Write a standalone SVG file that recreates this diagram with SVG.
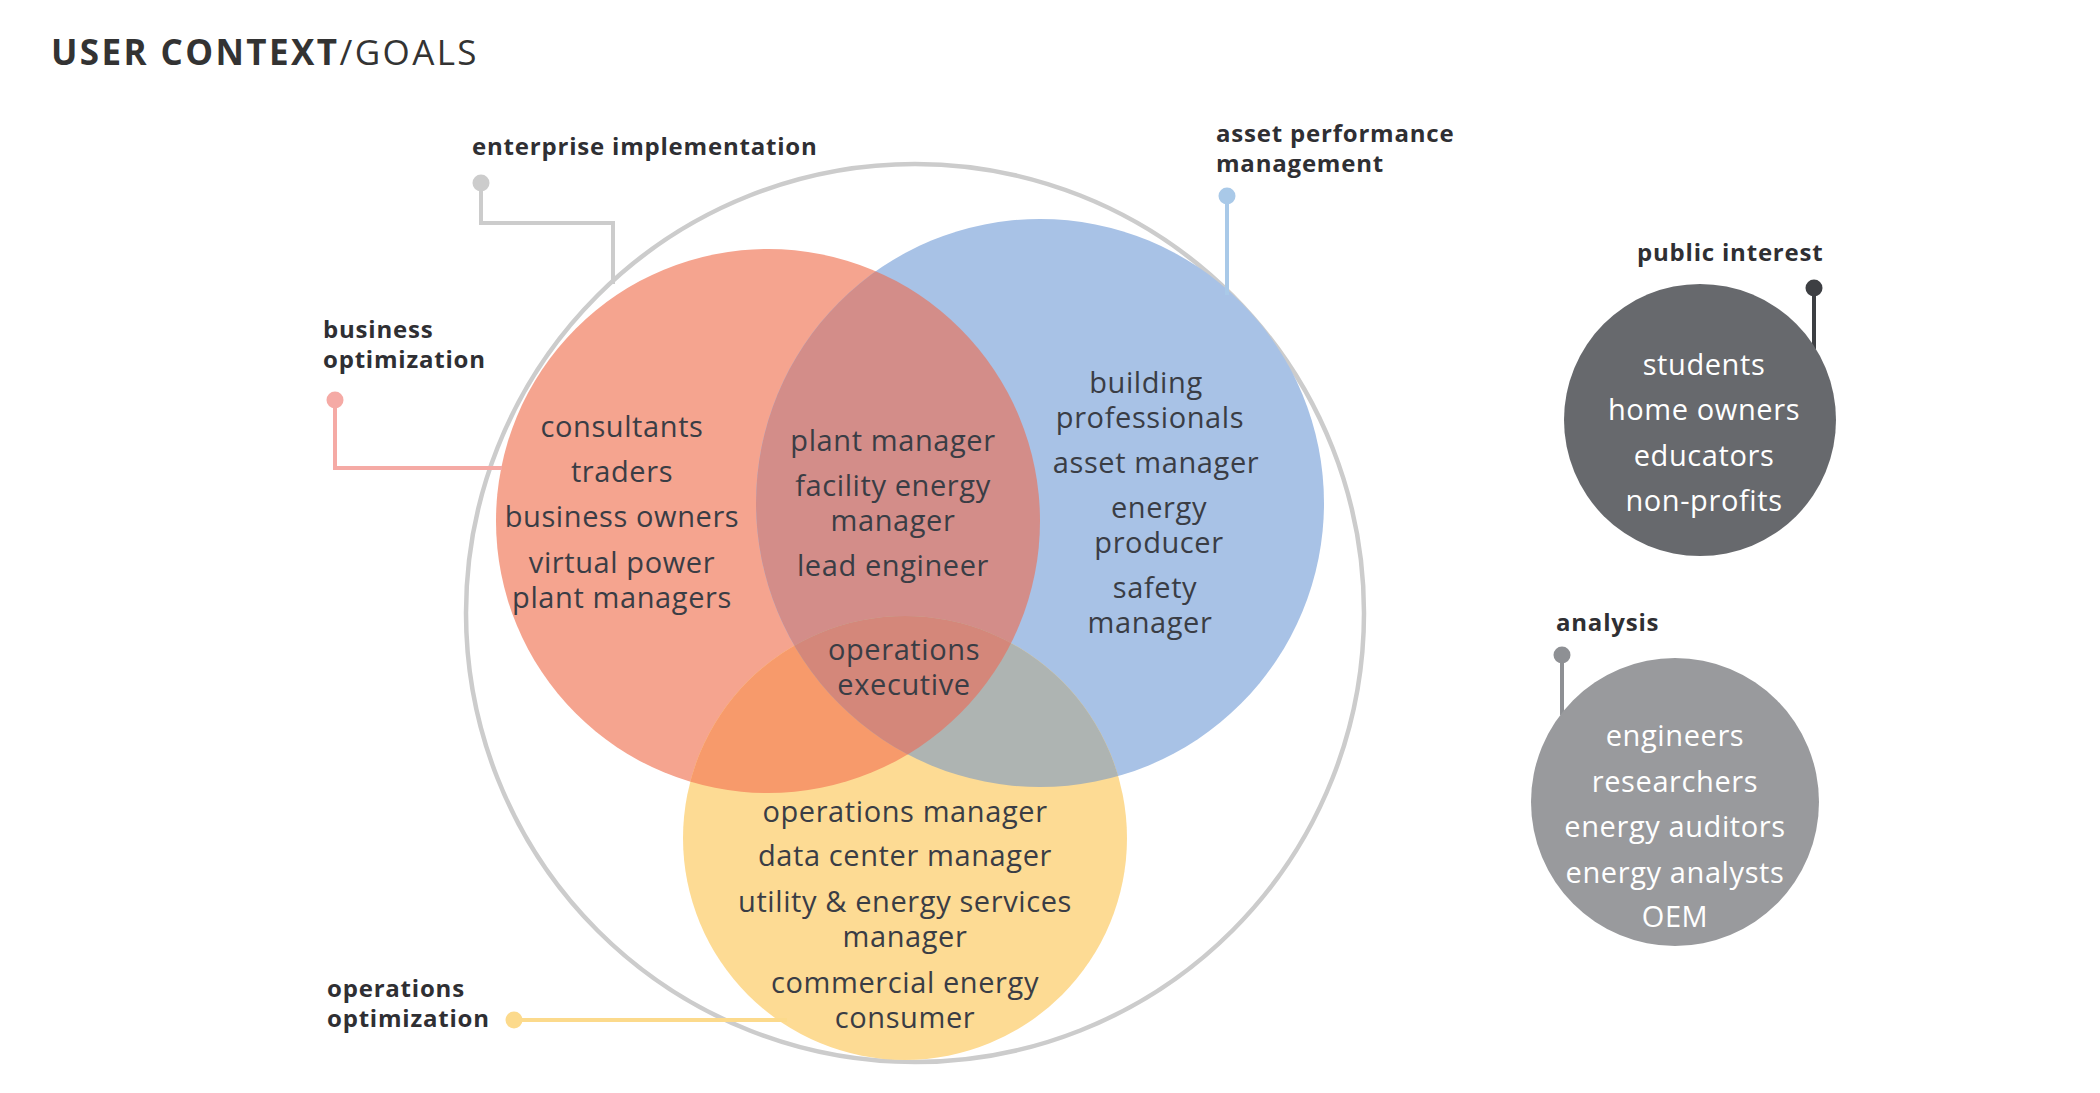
<svg xmlns="http://www.w3.org/2000/svg" width="2100" height="1093" viewBox="0 0 2100 1093">
<style>
.title{font-family:"Open Sans","Liberation Sans",sans-serif;font-size:35px;fill:#333333;letter-spacing:2.4px}
.lbl{font-family:"Open Sans","Liberation Sans",sans-serif;font-size:24px;font-weight:700;fill:#2f2f33;letter-spacing:0.8px}
.t{font-family:"Open Sans","Liberation Sans",sans-serif;font-size:29px;fill:#3a3d45;text-anchor:middle;letter-spacing:0.6px}
.w{font-family:"Open Sans","Liberation Sans",sans-serif;font-size:29px;fill:#ffffff;text-anchor:middle;letter-spacing:0.6px}
.ln{fill:none;stroke-width:4}
</style>
<defs>
<clipPath id="cR"><circle cx="768" cy="521" r="272"/></clipPath>
<clipPath id="cB"><circle cx="1040" cy="503" r="284"/></clipPath>
<clipPath id="cY"><circle cx="905" cy="838" r="222"/></clipPath>
</defs>
<rect width="2100" height="1093" fill="#ffffff"/>
<text class="title" x="51" y="65"><tspan font-weight="700">USER CONTEXT</tspan><tspan font-weight="400">/GOALS</tspan></text>

<g id="outer">
<circle cx="915" cy="613" r="449" fill="none" stroke="#cccccc" stroke-width="4.5"/>
</g>

<g id="venn-fills">
<circle cx="768" cy="521" r="272" fill="#f5a48f"/>
<circle cx="1040" cy="503" r="284" fill="#a8c2e6"/>
<circle cx="905" cy="838" r="222" fill="#fddb94"/>
<g clip-path="url(#cR)"><circle cx="1040" cy="503" r="284" fill="#d38d89"/></g>
<g clip-path="url(#cR)"><circle cx="905" cy="838" r="222" fill="#f79a6b"/></g>
<g clip-path="url(#cB)"><circle cx="905" cy="838" r="222" fill="#aeb4b2"/></g>
<g clip-path="url(#cR)"><g clip-path="url(#cB)"><circle cx="905" cy="838" r="222" fill="#d4877a"/></g></g>
</g>

<g id="connectors">
<polyline class="ln" stroke="#cccccc" points="481,183 481,223 613,223 613,284"/>
<circle cx="481" cy="183" r="8.5" fill="#cccccc"/>
<polyline class="ln" stroke="#f5aaa5" points="335,400 335,468 502,468"/>
<circle cx="335" cy="400" r="8.5" fill="#f5aaa5"/>
<polyline class="ln" stroke="#a9c9e8" points="1227,196 1227,295"/>
<circle cx="1227" cy="196" r="8.5" fill="#a9c9e8"/>
<polyline class="ln" stroke="#fcda8c" points="514,1020 787,1020"/>
<circle cx="514" cy="1020" r="8.5" fill="#fcda8c"/>
<polyline class="ln" stroke="#3d3f43" points="1814,288 1814,349"/>
<circle cx="1814" cy="288" r="8.5" fill="#3d3f43"/>
<polyline class="ln" stroke="#8e9094" points="1562,655 1562,715"/>
<circle cx="1562" cy="655" r="8.5" fill="#8e9094"/>
</g>

<g id="public-interest">
<circle cx="1700" cy="420" r="136" fill="#67696d"/>
<text class="w" x="1704" y="375">students</text>
<text class="w" x="1704" y="420">home owners</text>
<text class="w" x="1704" y="466">educators</text>
<text class="w" x="1704" y="511">non-profits</text>
</g>

<g id="analysis">
<circle cx="1675" cy="802" r="144" fill="#999a9d"/>
<text class="w" x="1675" y="746">engineers</text>
<text class="w" x="1675" y="792">researchers</text>
<text class="w" x="1675" y="837">energy auditors</text>
<text class="w" x="1675" y="883">energy analysts</text>
<text class="w" x="1675" y="927">OEM</text>
</g>

<g id="business-optimization">
<text class="t" x="622" y="437">consultants</text>
<text class="t" x="622" y="482">traders</text>
<text class="t" x="622" y="527">business owners</text>
<text class="t" x="622" y="573">virtual power<tspan x="622" dy="35">plant managers</tspan></text>
</g>

<g id="red-blue">
<text class="t" x="893" y="451">plant manager</text>
<text class="t" x="893" y="496">facility energy<tspan x="893" dy="35">manager</tspan></text>
<text class="t" x="893" y="576">lead engineer</text>
</g>

<g id="triple">
<text class="t" x="904" y="660">operations<tspan x="904" dy="35">executive</tspan></text>
</g>

<g id="asset-performance">
<text class="t" x="1146" y="393">building<tspan x="1150" dy="35">professionals</tspan></text>
<text class="t" x="1156" y="473">asset manager</text>
<text class="t" x="1159" y="518">energy<tspan x="1159" dy="35">producer</tspan></text>
<text class="t" x="1155" y="598">safety<tspan x="1150" dy="35">manager</tspan></text>
</g>

<g id="operations-optimization">
<text class="t" x="905" y="822">operations manager</text>
<text class="t" x="905" y="866">data center manager</text>
<text class="t" x="905" y="912">utility &amp; energy services<tspan x="905" dy="35">manager</tspan></text>
<text class="t" x="905" y="993">commercial energy<tspan x="905" dy="35">consumer</tspan></text>
</g>

<g id="labels">
<text class="lbl" x="472" y="155">enterprise implementation</text>
<text class="lbl" x="323" y="338">business<tspan x="323" dy="30">optimization</tspan></text>
<text class="lbl" x="1216" y="142">asset performance<tspan x="1216" dy="30">management</tspan></text>
<text class="lbl" x="1637" y="261">public interest</text>
<text class="lbl" x="1556" y="631">analysis</text>
<text class="lbl" x="327" y="997">operations<tspan x="327" dy="30">optimization</tspan></text>
</g>
</svg>
